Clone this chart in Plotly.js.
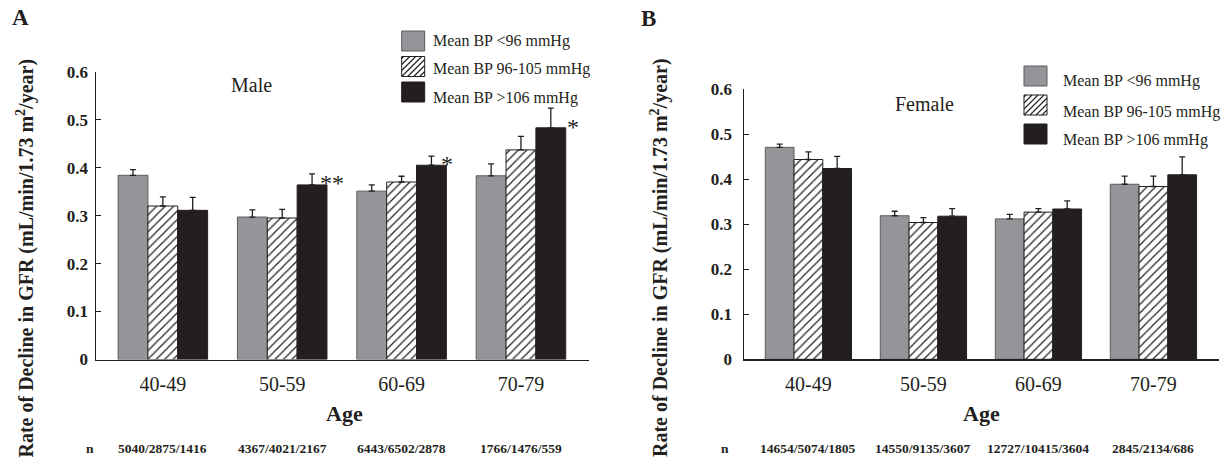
<!DOCTYPE html>
<html>
<head>
<meta charset="utf-8">
<script src="https://cdn.plot.ly/plotly-3.0.1.min.js"></script>
<style>
  html, body { margin: 0; padding: 0; background: #ffffff; }
  #chart { width: 1230px; height: 467px; }
</style>
</head>
<body>
<div id="chart"></div>
<script>
// ---------------- data ----------------
const ages = ['40-49', '50-59', '60-69', '70-79'];
const seriesNames = ['Mean BP &lt;96 mmHg', 'Mean BP 96-105 mmHg', 'Mean BP &gt;106 mmHg'];

const maleLow      = [0.384, 0.297, 0.351, 0.383];
const maleLowErr   = [0.012, 0.015, 0.013, 0.025];
const maleMid      = [0.320, 0.295, 0.370, 0.437];
const maleMidErr   = [0.019, 0.018, 0.012, 0.028];
const maleHigh     = [0.311, 0.364, 0.405, 0.483];
const maleHighErr  = [0.027, 0.023, 0.019, 0.041];

const femaleLow     = [0.471, 0.319, 0.312, 0.389];
const femaleLowErr  = [0.007, 0.010, 0.010, 0.018];
const femaleMid     = [0.444, 0.304, 0.327, 0.384];
const femaleMidErr  = [0.017, 0.011, 0.008, 0.023];
const femaleHigh    = [0.424, 0.318, 0.334, 0.410];
const femaleHighErr = [0.027, 0.017, 0.018, 0.040];

const maleN   = ['5040/2875/1416', '4367/4021/2167', '6443/6502/2878', '1766/1476/559'];
const femaleN = ['14654/5074/1805', '14550/9135/3607', '12727/10415/3604', '2845/2134/686'];
const maleStars = ['', '**', '*', '*'];

const yTicks = [0, 0.1, 0.2, 0.3, 0.4, 0.5, 0.6];

// ---------------- style ----------------
const W = 1230, H = 467;
const FONT = 'Liberation Serif, Times New Roman, serif';
const INK = '#231f20';
const GRAY = '#939598';
const GRAY_EDGE = '#5a5b5d';
const px = x => x / W;
const py = y => 1 - y / H;

const styles = [
  { color: GRAY, line: { color: GRAY_EDGE, width: 1 } },
  { color: '#ffffff', line: { color: INK, width: 1 },
    pattern: { shape: '/', size: 6, solidity: 0.2, fgcolor: INK, bgcolor: '#ffffff' } },
  { color: INK, line: { color: INK, width: 1 } }
];

function barTrace(y, err, k, xa, ya) {
  return {
    type: 'bar', x: ages, y: y, xaxis: xa, yaxis: ya, showlegend: false,
    name: seriesNames[k], marker: styles[k],
    error_y: { type: 'data', symmetric: false, array: err, arrayminus: err.map(() => 0),
               color: INK, thickness: 1.3, width: 3 },
    hoverinfo: 'skip'
  };
}

const data = [
  barTrace(maleLow, maleLowErr, 0, 'x', 'y'),
  barTrace(maleMid, maleMidErr, 1, 'x', 'y'),
  barTrace(maleHigh, maleHighErr, 2, 'x', 'y'),
  barTrace(femaleLow, femaleLowErr, 0, 'x2', 'y2'),
  barTrace(femaleMid, femaleMidErr, 1, 'x2', 'y2'),
  barTrace(femaleHigh, femaleHighErr, 2, 'x2', 'y2')
];

function xAxis(d0, d1, anchor) {
  return {
    domain: [px(d0), px(d1)], anchor: anchor, type: 'category', range: [-0.56, 3.57],
    showline: true, linecolor: INK, linewidth: 1.5, ticks: '', showgrid: false, zeroline: false,
    tickfont: { family: FONT, size: 20, color: INK }, ticklabelstandoff: 6, fixedrange: true
  };
}
function yAxis(top, bottom, anchor, standoff) {
  return {
    domain: [py(bottom), py(top)], anchor: anchor, range: [0, 0.6],
    tickvals: yTicks, ticktext: yTicks.map(String),
    showline: true, linecolor: INK, linewidth: 1.5, ticks: 'inside', ticklen: 5, tickwidth: 1.3,
    tickcolor: INK, showgrid: false, zeroline: false, ticklabelstandoff: standoff,
    tickfont: { family: FONT, size: 17, color: INK, weight: 'bold' }, fixedrange: true
  };
}

const annotations = [];
const shapes = [];
function txt(x, y, text, size, opts) {
  annotations.push(Object.assign({
    xref: 'paper', yref: 'paper', x: px(x), y: py(y), text: text, showarrow: false,
    font: { family: FONT, size: size, color: INK }, xanchor: 'center', yanchor: 'middle'
  }, opts || {}));
}

// panel letters and titles
txt(20, 18, '<b>A</b>', 23);
txt(649, 19, '<b>B</b>', 23);
txt(252, 85, 'Male', 20);
txt(924.5, 104, 'Female', 20);
const yTitle = '<b>Rate of Decline in GFR (mL/min/1.73 m<sup>2</sup>/year)</b>';
txt(24.5, 258, yTitle, 20, { textangle: -90 });
txt(659, 258, yTitle, 20, { textangle: -90 });
txt(344, 413, '<b>Age</b>', 22);
txt(981.5, 413, '<b>Age</b>', 22);
txt(90, 448, '<b>n</b>', 13.5);
txt(725, 448, '<b>n</b>', 13.5);

// n rows
ages.forEach((a, i) => {
  annotations.push({ xref: 'x', yref: 'paper', x: a, y: py(448), text: '<b>' + maleN[i] + '</b>',
    showarrow: false, font: { family: FONT, size: 13.5, color: INK }, yanchor: 'middle' });
  annotations.push({ xref: 'x2', yref: 'paper', x: a, y: py(448), text: '<b>' + femaleN[i] + '</b>',
    showarrow: false, font: { family: FONT, size: 13.5, color: INK }, yanchor: 'middle' });
});

// significance stars (placed beside the >106 bar top)
const starShift = [0, 36, 37, 44];
const starLift = [0, 2, 1, 1];
ages.forEach((a, i) => {
  if (!maleStars[i]) return;
  annotations.push({ xref: 'x', yref: 'y', x: a, y: maleHigh[i], text: maleStars[i],
    showarrow: false, font: { family: FONT, size: 24, color: INK },
    xanchor: 'left', yanchor: 'middle', xshift: starShift[i], yshift: starLift[i] });
});

// manual legends
function legend(bx, by0, rowGap, tx, tyOff) {
  const bw = 23, bh = 20;
  for (let k = 0; k < 3; k++) {
    const y0 = by0 + k * rowGap, y1 = y0 + bh;
    const fill = k === 0 ? GRAY : (k === 1 ? '#ffffff' : INK);
    const edge = k === 0 ? GRAY_EDGE : INK;
    shapes.push({ type: 'rect', xref: 'paper', yref: 'paper',
      x0: px(bx), x1: px(bx + bw), y0: py(y1), y1: py(y0),
      fillcolor: fill, line: { color: edge, width: 1 } });
    if (k === 1) {
      let path = '';
      const s = 6;
      for (let c = -bh + 2; c < bw; c += s) {
        const u0 = Math.max(0, c), u1 = Math.min(bw, bh + c);
        if (u1 <= u0) continue;
        path += 'M' + px(bx + u0) + ',' + py(y1 - (u0 - c)) + 'L' + px(bx + u1) + ',' + py(y1 - (u1 - c));
      }
      shapes.push({ type: 'path', xref: 'paper', yref: 'paper', path: path,
        line: { color: INK, width: 1.1 } });
    }
    txt(tx, y0 + bh / 2 + tyOff[k], seriesNames[k], 16, { xanchor: 'left' });
  }
}
legend(401.7, 31, 25.5, 431, [0, 2.5, 6]);
legend(1024, 66, 29, 1061, [5, 6.5, 6]);

const layout = {
  width: W, height: H, margin: { l: 0, r: 0, t: 0, b: 0 },
  paper_bgcolor: '#ffffff', plot_bgcolor: 'rgba(0,0,0,0)',
  barmode: 'group', bargap: 0.25, bargroupgap: 0,
  showlegend: false,
  xaxis: xAxis(96, 589, 'y'),
  yaxis: yAxis(71.7, 359.5, 'x', 3),
  xaxis2: xAxis(744, 1219, 'y2'),
  yaxis2: yAxis(89.3, 359.3, 'x2', 7),
  annotations: annotations,
  shapes: shapes
};

Plotly.newPlot('chart', data, layout, { staticPlot: true, displayModeBar: false });
</script>
</body>
</html>
